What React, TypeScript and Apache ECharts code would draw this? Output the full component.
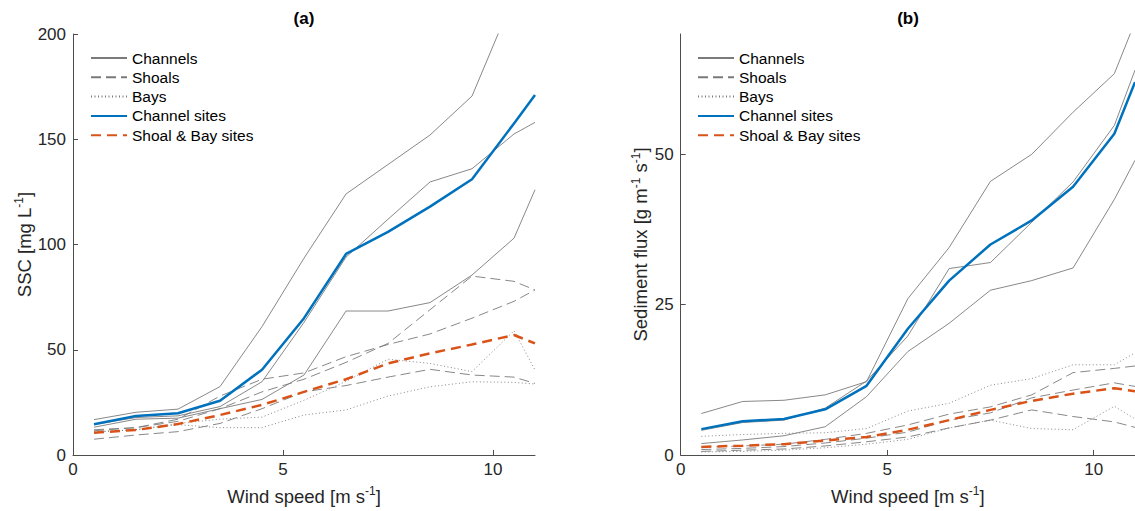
import React, { useEffect, useRef } from "react";
import * as echarts from "echarts";

// Wind speed bins [m s^-1]
const windSpeed = [0.5, 1.5, 2.5, 3.5, 4.5, 5.5, 6.5, 7.5, 8.5, 9.5, 10.5, 11];

// (a) SSC [mg L^-1]
const sscChannel1 = [16.8, 20.3, 21.8, 32.5, 61, 93.5, 124, 138, 152, 170.5, 218, 229];
const sscChannel2 = [14.5, 17.8, 18.6, 23, 34.8, 63, 94, 112, 129.7, 136, 152.5, 158];
const sscChannel3 = [13.2, 17, 17.5, 22, 26.4, 38, 68.4, 68.4, 72.4, 85.5, 103, 126];
const sscShoal1 = [12, 13, 16, 22, 30, 36, 44, 53, 69, 85, 82.5, 78.4];
const sscShoal2 = [11.5, 13, 17, 28, 36, 39, 46.7, 52.5, 57.5, 65, 73, 78.4];
const sscShoal3 = [7.5, 9.5, 11.1, 15, 22, 30, 33, 37, 40.7, 38, 37, 34];
const sscBay1 = [11, 12, 15, 17, 18, 26, 35, 45.5, 43.5, 39.6, 59, 40.4];
const sscBay2 = [11, 12, 14.4, 13, 13, 19, 21.4, 28, 32.4, 34.8, 34.5, 33.7];
const sscChannelSites = [14.6, 18.5, 19.8, 25.8, 40.5, 65, 95.5, 106, 118, 131, 157.5, 171];
const sscShoalBaySites = [10.6, 11.9, 14.7, 19, 23.8, 30, 36, 43.5, 48.3, 52.5, 57, 53];

// (b) Sediment flux [g m^-1 s^-1]
const fluxChannel1 = [6.9, 8.9, 9.1, 10, 12.2, 26, 34.5, 45.5, 50, 57, 63.4, 72];
const fluxChannel2 = [4.1, 5.4, 5.8, 7.8, 12.3, 19.8, 31, 32, 38.7, 45.4, 54.8, 64];
const fluxChannel3 = [1.9, 2.5, 3.2, 4.7, 9.7, 17.2, 21.9, 27.4, 29, 31.1, 42.5, 49];
const fluxShoal1 = [1.3, 1.5, 1.8, 2.6, 3.6, 5.0, 6.8, 8.0, 10.0, 13.7, 14.4, 14.8];
const fluxShoal2 = [0.9, 1.1, 1.4, 2.0, 2.8, 3.8, 5.8, 7.0, 9.5, 10.8, 12.0, 11.4];
const fluxShoal3 = [0.6, 0.8, 1.0, 1.5, 2.2, 3.0, 4.5, 5.8, 7.5, 6.4, 5.5, 4.6];
const fluxBay1 = [3.1, 3.4, 3.6, 3.7, 4.4, 7.3, 8.6, 11.6, 12.7, 15.0, 15.0, 17.0];
const fluxBay2 = [0.5, 0.6, 0.8, 1.2, 1.8, 2.6, 4.5, 5.8, 4.4, 4.2, 8.1, 6.0];
const fluxChannelSites = [4.3, 5.6, 6.0, 7.6, 11.5, 21, 29, 35, 39, 44.6, 53.4, 62];
const fluxShoalBaySites = [1.35, 1.55, 1.8, 2.4, 3.0, 4.2, 5.8, 7.5, 9.0, 10.2, 11.1, 10.6];

const xTicks = [0, 5, 10];
const sscTicks = [0, 50, 100, 150, 200];
const fluxTicks = [0, 25, 50];
const legendNames = ["Channels", "Shoals", "Bays", "Channel sites", "Shoal & Bay sites"];

const FONT = "Liberation Sans, Arial, Helvetica, sans-serif";
const GRAY = "#7a7a7a";
const BLUE = "#0072BD";
const ORANGE = "#D95319";
const AXIS = "#4d4d4d";
const TEXT = "#262626";

function line(name: string, ys: number[], idx: number, color: string, width: number, type: any, z: number) {
  return {
    type: "line",
    name,
    xAxisIndex: idx,
    yAxisIndex: idx,
    data: windSpeed.map((x, i) => [x, ys[i]]),
    symbol: "none",
    symbolSize: 0,
    showSymbol: false,
    clip: true,
    silent: true,
    z,
    lineStyle: { color, width, type },
    itemStyle: { color },
    emphasis: { disabled: true },
  };
}

const DASH = [10, 5];
const DOT = [1, 2.5];
const ODASH = [10, 6];

function panelSeries(idx: number, ch: number[][], sh: number[][], by: number[][], cs: number[], sb: number[]) {
  return [
    ...ch.map((d) => line("Channels", d, idx, GRAY, 0.9, "solid", 2)),
    ...sh.map((d) => line("Shoals", d, idx, GRAY, 0.9, DASH, 2)),
    ...by.map((d) => line("Bays", d, idx, GRAY, 0.9, DOT, 2)),
    line("Channel sites", cs, idx, BLUE, 2.5, "solid", 4),
    line("Shoal & Bay sites", sb, idx, ORANGE, 2.5, ODASH, 3),
  ];
}

const rich = {
  n: { fontSize: 18.5, color: TEXT, fontFamily: FONT, lineHeight: 22 },
  s: { fontSize: 12, color: TEXT, fontFamily: FONT, verticalAlign: "top", lineHeight: 22 },
};

function xAxis(idx: number) {
  return {
    type: "value",
    gridIndex: idx,
    min: 0,
    max: 11,
    name: "{n|Wind speed [m s}{s|-1}{n|]}",
    nameLocation: "middle",
    nameGap: 30,
    nameTextStyle: { rich },
    axisLine: { show: true, lineStyle: { color: AXIS, width: 1 } },
    axisTick: { show: true, inside: true, length: 5, customValues: xTicks, lineStyle: { color: AXIS } },
    axisLabel: { customValues: xTicks, color: TEXT, fontSize: 17, fontFamily: FONT, margin: 6 },
    splitLine: { show: false },
  };
}

function yAxis(idx: number, max: number, ticks: number[], name: string, gap: number) {
  return {
    type: "value",
    gridIndex: idx,
    min: 0,
    max,
    name,
    nameLocation: "middle",
    nameGap: gap,
    nameTextStyle: { rich },
    axisLine: { show: true, lineStyle: { color: AXIS, width: 1 } },
    axisTick: { show: true, inside: true, length: 5, customValues: ticks, lineStyle: { color: AXIS } },
    axisLabel: { customValues: ticks, color: TEXT, fontSize: 17, fontFamily: FONT, margin: 7 },
    splitLine: { show: false },
  };
}

function legend(left: number) {
  return {
    data: legendNames,
    orient: "vertical",
    left,
    top: 45,
    padding: 5,
    itemWidth: 36,
    itemHeight: 15,
    itemGap: 3.3,
    selectedMode: false,
    itemStyle: { opacity: 0 },
    textStyle: { fontSize: 15.5, color: "#000", fontFamily: FONT },
  };
}

export default function App() {
  const ref = useRef<HTMLDivElement>(null);
  useEffect(() => {
    if (!ref.current) return;
    const chart = echarts.init(ref.current, undefined, { renderer: "svg" });
    chart.setOption({
      animation: false,
      backgroundColor: "#fff",
      grid: [
        { left: 73, right: 600, top: 34, bottom: 56 },
        { left: 680.7, right: -7.7, top: 34, bottom: 56 },
      ],
      xAxis: [xAxis(0), xAxis(1)],
      yAxis: [
        yAxis(0, 200, sscTicks, "{n|SSC [mg L}{s|-1}{n|]}", 38),
        yAxis(1, 70, fluxTicks, "{n|Sediment flux [g m}{s|-1}{n| s}{s|-1}{n|]}", 29),
      ],
      legend: [legend(85), legend(692)],
      graphic: [
        { type: "text", x: 304, y: 18, style: { text: "(a)", font: "bold 17px " + FONT, fill: "#000", textAlign: "center", textVerticalAlign: "middle" } },
        { type: "text", x: 908, y: 18, style: { text: "(b)", font: "bold 17px " + FONT, fill: "#000", textAlign: "center", textVerticalAlign: "middle" } },
      ],
      series: [
        ...panelSeries(0, [sscChannel1, sscChannel2, sscChannel3], [sscShoal1, sscShoal2, sscShoal3], [sscBay1, sscBay2], sscChannelSites, sscShoalBaySites),
        ...panelSeries(1, [fluxChannel1, fluxChannel2, fluxChannel3], [fluxShoal1, fluxShoal2, fluxShoal3], [fluxBay1, fluxBay2], fluxChannelSites, fluxShoalBaySites),
      ],
    });
    return () => chart.dispose();
  }, []);
  return <div ref={ref} style={{ position: "absolute", left: 0, top: 0, width: 1135, height: 511 }} />;
}
